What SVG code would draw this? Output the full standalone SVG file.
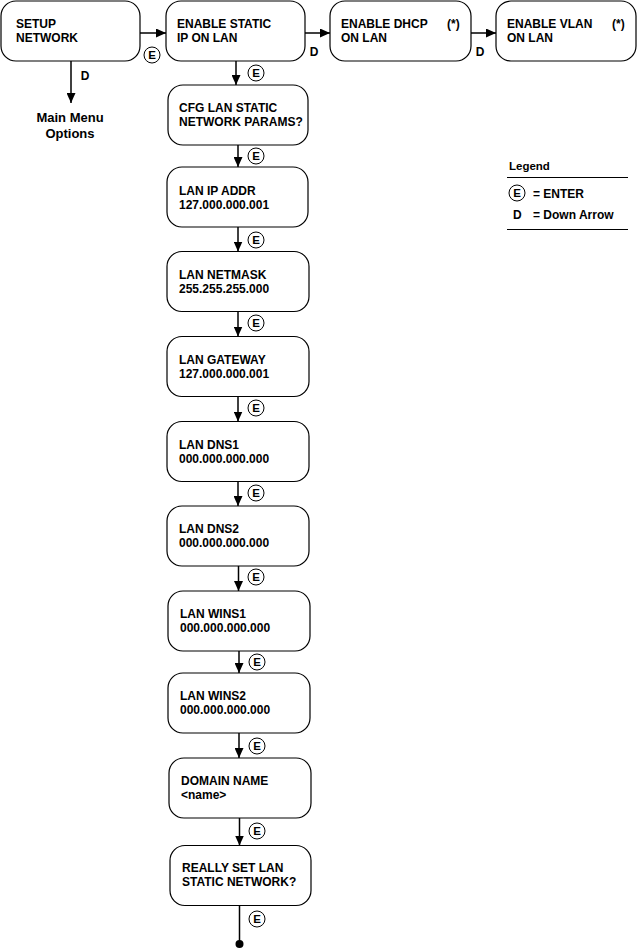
<svg xmlns="http://www.w3.org/2000/svg" width="637" height="950" viewBox="0 0 637 950">
<defs>
<marker id="ah" markerUnits="userSpaceOnUse" markerWidth="10" markerHeight="9" refX="10" refY="4.5" orient="auto">
<path d="M0,0 L10,4.5 L0,9 z" fill="#000"/>
</marker>
<style>
.box{fill:#fff;stroke:#000;stroke-width:1.2}
.t{font-family:"Liberation Sans",Arial,sans-serif;font-weight:bold;font-size:12px;fill:#000}
.lg{font-family:"Liberation Sans",Arial,sans-serif;font-weight:bold;font-size:12px;fill:#000}
.ec{fill:#fff;stroke:#000;stroke-width:1}
.et{font-family:"Liberation Sans",Arial,sans-serif;font-weight:bold;font-size:11.5px;fill:#000;text-anchor:middle}
.c{stroke:#000;stroke-width:1.5;fill:none}
</style>
</defs>
<rect width="637" height="950" fill="#fff"/>

<g id="connectors">
<line class="c" x1="140" y1="33" x2="166" y2="33" marker-end="url(#ah)"/>
<line class="c" x1="305" y1="33" x2="330" y2="33" marker-end="url(#ah)"/>
<line class="c" x1="471" y1="33" x2="496" y2="33" marker-end="url(#ah)"/>
<line class="c" x1="71" y1="61" x2="71" y2="103" marker-end="url(#ah)"/>
<line class="c" x1="236" y1="61" x2="236" y2="85" marker-end="url(#ah)"/>
<line class="c" x1="238" y1="145" x2="238" y2="167" marker-end="url(#ah)"/>
<line class="c" x1="238" y1="227" x2="238" y2="251.5" marker-end="url(#ah)"/>
<line class="c" x1="238" y1="311.5" x2="238" y2="336.5" marker-end="url(#ah)"/>
<line class="c" x1="238" y1="396.5" x2="238" y2="421.5" marker-end="url(#ah)"/>
<line class="c" x1="238" y1="481.5" x2="238" y2="506" marker-end="url(#ah)"/>
<line class="c" x1="238.5" y1="566" x2="238.5" y2="591" marker-end="url(#ah)"/>
<line class="c" x1="239" y1="651" x2="239" y2="673" marker-end="url(#ah)"/>
<line class="c" x1="239" y1="733" x2="239" y2="758" marker-end="url(#ah)"/>
<line class="c" x1="239.5" y1="818" x2="239.5" y2="845.5" marker-end="url(#ah)"/>
<line class="c" x1="239.5" y1="905.5" x2="239.5" y2="944"/>
<circle cx="239.5" cy="944" r="4" fill="#000"/>

<g id="labels">
<circle class="ec" cx="152" cy="55" r="8"/><text class="et" x="152" y="59">E</text>
<text class="t" x="314" y="56" text-anchor="middle">D</text>
<text class="t" x="480" y="56" text-anchor="middle">D</text>
<text class="t" x="85" y="80" text-anchor="middle">D</text>
<circle class="ec" cx="256" cy="73" r="8"/><text class="et" x="256" y="77">E</text>
<circle class="ec" cx="256" cy="156" r="8"/><text class="et" x="256" y="160">E</text>
<circle class="ec" cx="256" cy="240" r="8"/><text class="et" x="256" y="244">E</text>
<circle class="ec" cx="256" cy="323" r="8"/><text class="et" x="256" y="327">E</text>
<circle class="ec" cx="256" cy="408" r="8"/><text class="et" x="256" y="412">E</text>
<circle class="ec" cx="256" cy="493" r="8"/><text class="et" x="256" y="497">E</text>
<circle class="ec" cx="256" cy="577" r="8"/><text class="et" x="256" y="581">E</text>
<circle class="ec" cx="257" cy="662" r="8"/><text class="et" x="257" y="666">E</text>
<circle class="ec" cx="257" cy="746" r="8"/><text class="et" x="257" y="750">E</text>
<circle class="ec" cx="257" cy="831" r="8"/><text class="et" x="257" y="835">E</text>
<circle class="ec" cx="257" cy="919" r="8"/><text class="et" x="257" y="923">E</text>
</g>
</g>

<g id="setup-network">
<rect class="box" x="1" y="1" width="139" height="60" rx="15"/>
<text class="t" x="16" y="28">SETUP</text>
<text class="t" x="16" y="42">NETWORK</text>
</g>
<g id="enable-static">
<rect class="box" x="166" y="1" width="139" height="60" rx="15"/>
<text class="t" x="177" y="28">ENABLE STATIC</text>
<text class="t" x="177" y="42">IP ON LAN</text>
</g>
<g id="enable-dhcp">
<rect class="box" x="330" y="1" width="141" height="60" rx="15"/>
<text class="t" x="341" y="28">ENABLE DHCP</text>
<text class="t" x="447" y="28">(*)</text>
<text class="t" x="341" y="42">ON LAN</text>
</g>
<g id="enable-vlan">
<rect class="box" x="496" y="1" width="140" height="60" rx="15"/>
<text class="t" x="507" y="28">ENABLE VLAN</text>
<text class="t" x="612" y="28">(*)</text>
<text class="t" x="507" y="42">ON LAN</text>
</g>
<g id="main-menu">
<text class="t" x="70" y="122" text-anchor="middle" style="font-size:13px">Main Menu</text>
<text class="t" x="70" y="138" text-anchor="middle" style="font-size:13px">Options</text>
</g>

<g id="cfg-lan">
<rect class="box" x="168" y="85" width="140" height="60" rx="15"/>
<text class="t" x="179" y="112">CFG LAN STATIC</text>
<text class="t" x="179" y="126">NETWORK PARAMS?</text>
</g>
<g id="lan-ip">
<rect class="box" x="167" y="167" width="141" height="60" rx="15"/>
<text class="t" x="179" y="195">LAN IP ADDR</text>
<text class="t" x="179" y="209">127.000.000.001</text>
</g>
<g id="lan-netmask">
<rect class="box" x="167" y="251.5" width="142" height="60" rx="15"/>
<text class="t" x="179" y="279">LAN NETMASK</text>
<text class="t" x="179" y="293">255.255.255.000</text>
</g>
<g id="lan-gateway">
<rect class="box" x="167" y="336.5" width="142" height="60" rx="15"/>
<text class="t" x="179" y="364">LAN GATEWAY</text>
<text class="t" x="179" y="378">127.000.000.001</text>
</g>
<g id="lan-dns1">
<rect class="box" x="167" y="421.5" width="142" height="60" rx="15"/>
<text class="t" x="179" y="449">LAN DNS1</text>
<text class="t" x="179" y="463">000.000.000.000</text>
</g>
<g id="lan-dns2">
<rect class="box" x="167" y="506" width="142" height="60" rx="15"/>
<text class="t" x="179" y="533">LAN DNS2</text>
<text class="t" x="179" y="547">000.000.000.000</text>
</g>
<g id="lan-wins1">
<rect class="box" x="168" y="591" width="142" height="60" rx="15"/>
<text class="t" x="180" y="618">LAN WINS1</text>
<text class="t" x="180" y="632">000.000.000.000</text>
</g>
<g id="lan-wins2">
<rect class="box" x="168" y="673" width="142" height="60" rx="15"/>
<text class="t" x="180" y="700">LAN WINS2</text>
<text class="t" x="180" y="714">000.000.000.000</text>
</g>
<g id="domain-name">
<rect class="box" x="169" y="758" width="142" height="60" rx="15"/>
<text class="t" x="181" y="785">DOMAIN NAME</text>
<text class="t" x="181" y="799">&lt;name&gt;</text>
</g>
<g id="really-set">
<rect class="box" x="170" y="845.5" width="141" height="60" rx="15"/>
<text class="t" x="182" y="872">REALLY SET LAN</text>
<text class="t" x="182" y="886">STATIC NETWORK?</text>
</g>

<g id="legend">
<text class="lg" x="509" y="170" style="font-size:11.5px">Legend</text>
<line x1="507" y1="177.5" x2="628" y2="177.5" stroke="#000" stroke-width="1"/>
<circle class="ec" cx="517" cy="193" r="8"/><text class="et" x="517" y="197">E</text>
<text class="lg" x="533" y="198">= ENTER</text>
<text class="lg" x="513" y="219">D</text>
<text class="lg" x="533" y="219">= Down Arrow</text>
<line x1="507" y1="229.5" x2="628" y2="229.5" stroke="#000" stroke-width="1"/>
</g>
</svg>
